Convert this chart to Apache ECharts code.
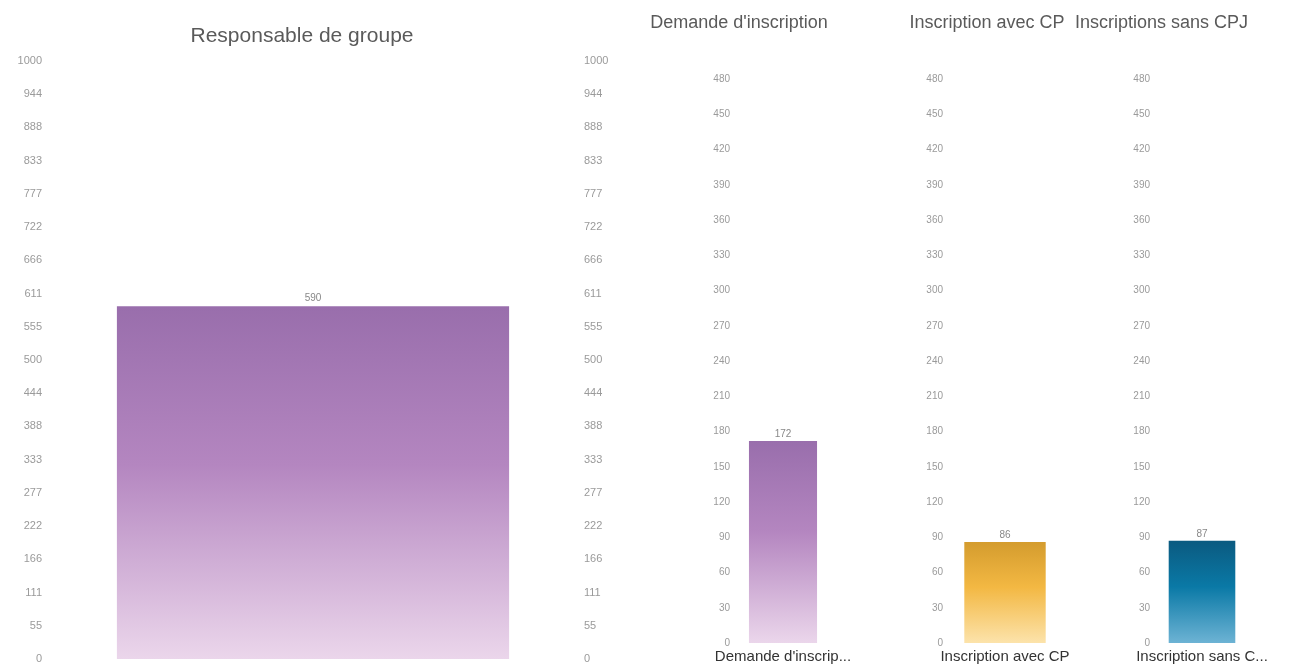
<!DOCTYPE html>
<html>
<head>
<meta charset="utf-8">
<title>Inscriptions</title>
<script src="https://cdn.jsdelivr.net/npm/echarts@6/dist/echarts.min.js"></script>
<style>
  html, body { margin: 0; padding: 0; background: #fff; }
  #chart { width: 1299px; height: 666px; }
</style>
</head>
<body>
<div id="chart"></div>
<script>
// Main panel: group leaders
const groupTitle = 'Responsable de groupe';
const groupCategories = [''];
const groupValues = [590];
const groupAxisMax = 1000;
const groupAxisSteps = 18;

// Small panels: registrations
const smallTitles = ["Demande d'inscription", 'Inscription avec CP', 'Inscriptions sans CPJ'];
const smallCategories = ["Demande d'inscription", 'Inscription avec CP', 'Inscription sans CPJ'];
const smallValues = [172, 86, 87];
const smallAxisMax = 480;
const smallAxisInterval = 30;

const purple = ['#996eac', '#b486c0', '#ebd6eb'];
const orange = ['#d49c2e', '#f3b843', '#fce3ab'];
const blue = ['#0b5a80', '#0a79a6', '#6db3d4'];
const smallColors = [purple, orange, blue];

const FONT = 'Liberation Sans, Arial, sans-serif';

function grad(c) {
  return new echarts.graphic.LinearGradient(0, 0, 0, 1, [
    { offset: 0, color: c[0] },
    { offset: 0.45, color: c[1] },
    { offset: 1, color: c[2] }
  ]);
}

const axisLabelStyle = { color: '#9a9a9a', fontSize: 11, fontFamily: FONT };
const floorLabel = v => String(Math.floor(Math.round(v * 1e6) / 1e6));

// grid boxes: main panel then three small panels
const grids = [
  { left: 48, top: 61, width: 530, height: 598 },
  { left: 737, top: 79, width: 92, height: 564 },
  { left: 950, top: 79, width: 110, height: 564 },
  { left: 1157, top: 79, width: 90, height: 564 }
];
// room given to each category label before it is shortened
const labelWidths = [140, 140, 137];

const titleStyle = size => ({ fontSize: size, fontWeight: 'normal', color: '#5a5a5a', fontFamily: FONT });
const titles = [
  { text: groupTitle, left: 297, top: 21, textAlign: 'center', textStyle: titleStyle(21) },
  { text: smallTitles[0], left: 734, top: 9, textAlign: 'center', textStyle: titleStyle(18) },
  { text: smallTitles[1], left: 982, top: 9, textAlign: 'center', textStyle: titleStyle(18) },
  { text: smallTitles[2], left: 1070, top: 9, textStyle: titleStyle(18) }
];

const xAxes = [
  { type: 'category', gridIndex: 0, data: groupCategories,
    axisLine: { show: false }, axisTick: { show: false }, axisLabel: { show: false } }
];
const yAxes = [
  { type: 'value', gridIndex: 0, position: 'left', min: 0, max: groupAxisMax, interval: groupAxisMax / groupAxisSteps,
    axisLine: { show: false }, axisTick: { show: false }, splitLine: { show: false },
    axisLabel: Object.assign({ formatter: floorLabel, margin: 6 }, axisLabelStyle) },
  { type: 'value', gridIndex: 0, position: 'right', min: 0, max: groupAxisMax, interval: groupAxisMax / groupAxisSteps,
    axisLine: { show: false }, axisTick: { show: false }, splitLine: { show: false },
    axisLabel: Object.assign({ formatter: floorLabel, margin: 6 }, axisLabelStyle) }
];
const series = [
  { type: 'bar', xAxisIndex: 0, yAxisIndex: 0, data: groupValues, barWidth: '74%',
    itemStyle: { color: grad(purple) },
    label: { show: true, position: 'top', distance: 3, color: '#888', fontSize: 10, fontFamily: FONT } }
];

smallValues.forEach((v, i) => {
  const g = i + 1;
  xAxes.push({ type: 'category', gridIndex: g, data: [smallCategories[i]],
    axisLine: { show: false }, axisTick: { show: false },
    axisLabel: { color: '#333', fontSize: 15, margin: 6, width: labelWidths[i], overflow: 'truncate', ellipsis: '...',
      fontFamily: FONT } });
  yAxes.push({ type: 'value', gridIndex: g, min: 0, max: smallAxisMax, interval: smallAxisInterval,
    axisLine: { show: false }, axisTick: { show: false }, splitLine: { show: false },
    axisLabel: Object.assign({ margin: 7 }, axisLabelStyle, { fontSize: 10 }) });
  series.push({ type: 'bar', xAxisIndex: g, yAxisIndex: g + 1, data: [v], barWidth: '74%',
    itemStyle: { color: grad(smallColors[i]) },
    label: { show: true, position: 'top', distance: 2, color: '#888', fontSize: 10, fontFamily: FONT } });
});

const chart = echarts.init(document.getElementById('chart'));
chart.setOption({
  animation: false,
  title: titles,
  grid: grids,
  xAxis: xAxes,
  yAxis: yAxes,
  series: series
});
</script>
</body>
</html>
